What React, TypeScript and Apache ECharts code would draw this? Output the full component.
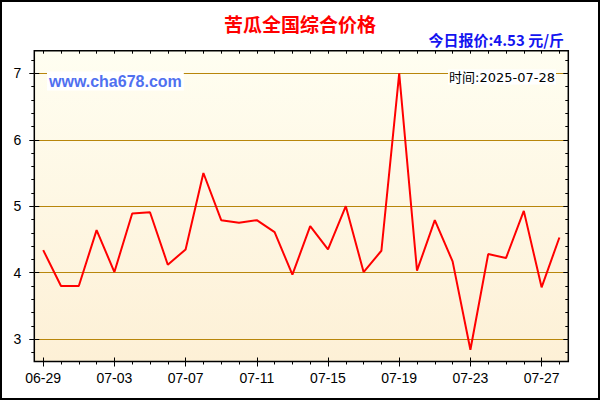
import React, { useEffect, useRef } from "react";
import * as echarts from "echarts";

const dates = [
  "06-29", "06-30", "07-01", "07-02", "07-03", "07-04", "07-05", "07-06",
  "07-07", "07-08", "07-09", "07-10", "07-11", "07-12", "07-13", "07-14",
  "07-15", "07-16", "07-17", "07-18", "07-19", "07-20", "07-21", "07-22",
  "07-23", "07-24", "07-25", "07-26", "07-27", "07-28",
];
const prices = [
  4.34, 3.8, 3.8, 4.64, 4.01, 4.89, 4.91, 4.12,
  4.35, 5.5, 4.79, 4.75, 4.79, 4.61, 3.97, 4.7,
  4.35, 5.0, 4.01, 4.33, 7.0, 4.03, 4.79, 4.17,
  2.84, 4.28, 4.22, 4.93, 3.78, 4.53,
];
const yMajorTicks = [3, 4, 5, 6, 7];
const yMinorTicks = [
  2.8, 3.0, 3.2, 3.4, 3.6, 3.8, 4.0, 4.2, 4.4, 4.6, 4.8, 5.0,
  5.2, 5.4, 5.6, 5.8, 6.0, 6.2, 6.4, 6.6, 6.8, 7.0, 7.2,
];
const Y_MIN = 2.664;
const Y_MAX = 7.34;

const titleText = "苦瓜全国综合价格";
const todayText = "今日报价:4.53 元/斤";
const siteText = "www.cha678.com";
const timeText = "时间:2025-07-28";

const BLACK = "#000";
const GRID_COLOR = "#B8860B";

function xAxisDef(position: string, tickInterval: number, len: number, inside: boolean, withLabel: boolean) {
  return {
    type: "category",
    data: dates,
    position,
    boundaryGap: true,
    axisLine: { show: false, onZero: false },
    axisTick: {
      show: true,
      alignWithLabel: true,
      interval: tickInterval,
      length: len,
      inside,
      lineStyle: { color: BLACK, width: 1 },
    },
    axisLabel: withLabel
      ? { show: true, interval: 3, color: BLACK, fontSize: 14, fontFamily: "Liberation Sans", margin: 9 }
      : { show: false },
    splitLine: { show: false },
  };
}

function yAxisDef(position: string, ticks: number[], len: number, inside: boolean, withLabel: boolean, withSplit: boolean) {
  return {
    type: "value",
    position,
    min: Y_MIN,
    max: Y_MAX,
    axisLine: { show: false },
    axisTick: {
      show: true,
      customValues: ticks,
      length: len,
      inside,
      lineStyle: { color: BLACK, width: 1 },
    },
    axisLabel: withLabel
      ? { show: true, customValues: yMajorTicks, color: BLACK, fontSize: 14, fontFamily: "Liberation Sans", margin: 13 }
      : { show: false },
    splitLine: withSplit
      ? { show: true, lineStyle: { color: GRID_COLOR, width: 1, type: "solid" } }
      : { show: false },
  };
}

export default function App() {
  const ref = useRef<HTMLDivElement>(null);
  useEffect(() => {
    document.body.style.margin = "0";
    if (!ref.current) return;
    const chart = echarts.init(ref.current, undefined, { renderer: "svg" });
    chart.setOption({
      animation: false,
      textStyle: { fontFamily: "Liberation Sans" },
      grid: {
        left: 34.3,
        right: 31.7,
        top: 50.7,
        bottom: 38.5,
        show: true,
        borderColor: BLACK,
        borderWidth: 1.5,
        backgroundColor: {
          type: "linear",
          x: 0,
          y: 0,
          x2: 0,
          y2: 1,
          colorStops: [
            { offset: 0, color: "#FFFEF1" },
            { offset: 1, color: "#FDF0D6" },
          ],
        },
      },
      xAxis: [
        xAxisDef("bottom", 0, 3, false, true),
        xAxisDef("bottom", 3, 5, false, false),
        xAxisDef("bottom", 3, 4, true, false),
        xAxisDef("top", 0, 3, true, false),
      ],
      yAxis: [
        yAxisDef("left", yMinorTicks, 3, false, true, false),
        yAxisDef("left", yMajorTicks, 5, false, false, true),
        yAxisDef("left", yMajorTicks, 5, true, false, false),
        yAxisDef("right", yMinorTicks, 3, true, false, false),
        yAxisDef("right", yMajorTicks, 5, true, false, false),
      ],
      series: [
        {
          type: "line",
          data: prices,
          xAxisIndex: 0,
          yAxisIndex: 0,
          symbol: "none",
          silent: true,
          z: 5,
          lineStyle: { color: "#FF0000", width: 2 },
        },
      ],
      graphic: [
        {
          type: "rect",
          shape: { x: 1, y: 1, width: 598, height: 398 },
          style: { fill: "none", stroke: BLACK, lineWidth: 2 },
          z: 100,
          silent: true,
        },
        {
          type: "text",
          x: 300,
          y: 23,
          style: {
            text: titleText,
            fill: "#FF0000",
            font: 'bold 19px "Noto Sans CJK SC"',
            align: "center",
            verticalAlign: "middle",
            textAlign: "center",
            textVerticalAlign: "middle",
          },
        },
        {
          type: "text",
          x: 564,
          y: 39,
          style: {
            text: todayText,
            fill: "#1414F0",
            font: 'bold 15px "Noto Sans CJK SC"',
            align: "right",
            verticalAlign: "middle",
            textAlign: "right",
            textVerticalAlign: "middle",
          },
        },
        {
          type: "text",
          x: 47,
          y: 81,
          z: 50,
          style: {
            text: siteText,
            fill: "#5070F0",
            font: 'bold 16px "Liberation Sans"',
            align: "left",
            verticalAlign: "middle",
            textAlign: "left",
            textVerticalAlign: "middle",
            backgroundColor: "#FFFFFF",
            padding: [2, 2, 1, 2],
          },
        },
        {
          type: "text",
          x: 556,
          y: 77,
          z: 50,
          style: {
            text: timeText,
            fill: BLACK,
            font: '13px "DejaVu Sans", "Noto Sans CJK SC"',
            align: "right",
            verticalAlign: "middle",
            textAlign: "right",
            textVerticalAlign: "middle",
            backgroundColor: "#FFFFFF",
            padding: [1, 1, 1, 1],
          },
        },
      ],
    });
    return () => chart.dispose();
  }, []);
  return <div ref={ref} style={{ width: 600, height: 400 }} />;
}
